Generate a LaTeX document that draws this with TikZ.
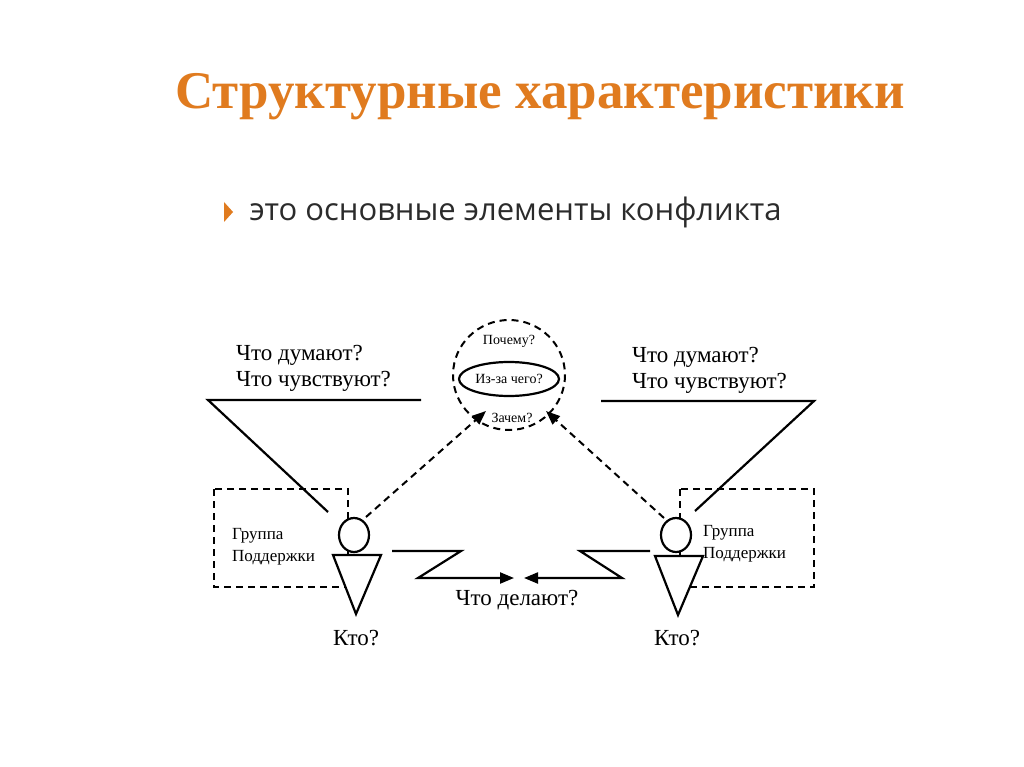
\documentclass[tikz,border=0pt]{standalone}
\usepackage{fontspec}
\setmainfont{Liberation Serif}
\newfontfamily\subfont{Open Sans}
\usetikzlibrary{arrows.meta,shapes.geometric}
\definecolor{ttl}{HTML}{E07B1F}
\definecolor{subc}{HTML}{2B2B2B}
\begin{document}
\begin{tikzpicture}[x=1pt,y=-1pt,
  ln/.style={line width=2.2pt,black},
  dsh/.style={line width=2pt,dash pattern=on 7pt off 5pt},
  lbl/.style={font=\fontsize{23}{26}\selectfont,inner sep=0pt},
  sml/.style={font=\fontsize{17}{19}\selectfont,inner sep=0pt},
  arr/.style={-{Triangle[length=14pt,width=11pt]}}]
\useasboundingbox[fill=white] (0,0) rectangle (1024,767);
\node[text=ttl,font=\fontsize{53}{58}\selectfont\bfseries] (title) at (540,97) {Структурные характеристики};
\fill[ttl] (224,202) -- (233,212) -- (224,222) -- cycle;
\node[anchor=west,text=subc,font=\subfont\fontsize{31}{36}\selectfont] (sub) at (246,212) {это основные элементы конфликта};
% central circle
\draw[dsh] (509,375) ellipse (56 and 55);
\node[draw,ellipse,line width=2.2pt,minimum width=100pt,minimum height=34pt] (why2) at (509,379) {};
\node[sml,font=\fontsize{14}{16}\selectfont] (why1) at (509,341) {Почему?};
\node[sml,font=\fontsize{14}{16}\selectfont] at (509,379) {Из-за чего?};
\node[sml,font=\fontsize{14}{16}\selectfont] (why3) at (512,418) {Зачем?};
\coordinate (cl) at (486,411); \coordinate (cr) at (546,411);
% left
\node[lbl,anchor=west] (lt1) at (236,355) {Что думают?};
\node[lbl,anchor=west] (lt2) at (236,381) {Что чувствуют?};
\draw[ln] (421,400) -- (208,400) -- (328,512);
\draw[dsh] (214,489) rectangle (348,587);
\node[sml,anchor=west,align=left] (lg) at (232,547) {Группа\\[3pt]Поддержки};
\draw[ln,fill=white] (354,535) ellipse (15 and 17);
\draw[ln,fill=white] (333,555) -- (381,555) -- (356,614) -- cycle;
\node[lbl] (lk) at (356,638) {Кто?};
\coordinate (lh) at (366,517);
\draw[dsh,arr] (lh) -- (cl);
% right
\node[lbl,anchor=west] (rt1) at (632,357) {Что думают?};
\node[lbl,anchor=west] (rt2) at (632,383) {Что чувствуют?};
\draw[ln] (601,401) -- (814,401) -- (695,511);
\draw[dsh] (680,489) rectangle (814,587);
\node[sml,anchor=west,align=left] (rg) at (703,544) {Группа\\[3pt]Поддержки};
\draw[ln,fill=white] (676,535) ellipse (15 and 17);
\draw[ln,fill=white] (655,556) -- (703,556) -- (678,615) -- cycle;
\node[lbl] (rk) at (677,638) {Кто?};
\coordinate (rh) at (664,518);
\draw[dsh,arr] (rh) -- (cr);
% zigzags
\coordinate (zl) at (514,578); \coordinate (zr) at (524,578);
\draw[ln,arr] (392,551) -- (461,551) -- (418,578) -- (zl);
\draw[ln,arr] (650,551) -- (580,551) -- (622,578) -- (zr);
\node[lbl] (what) at (517,600) {Что делают?};
\end{tikzpicture}
\end{document}
